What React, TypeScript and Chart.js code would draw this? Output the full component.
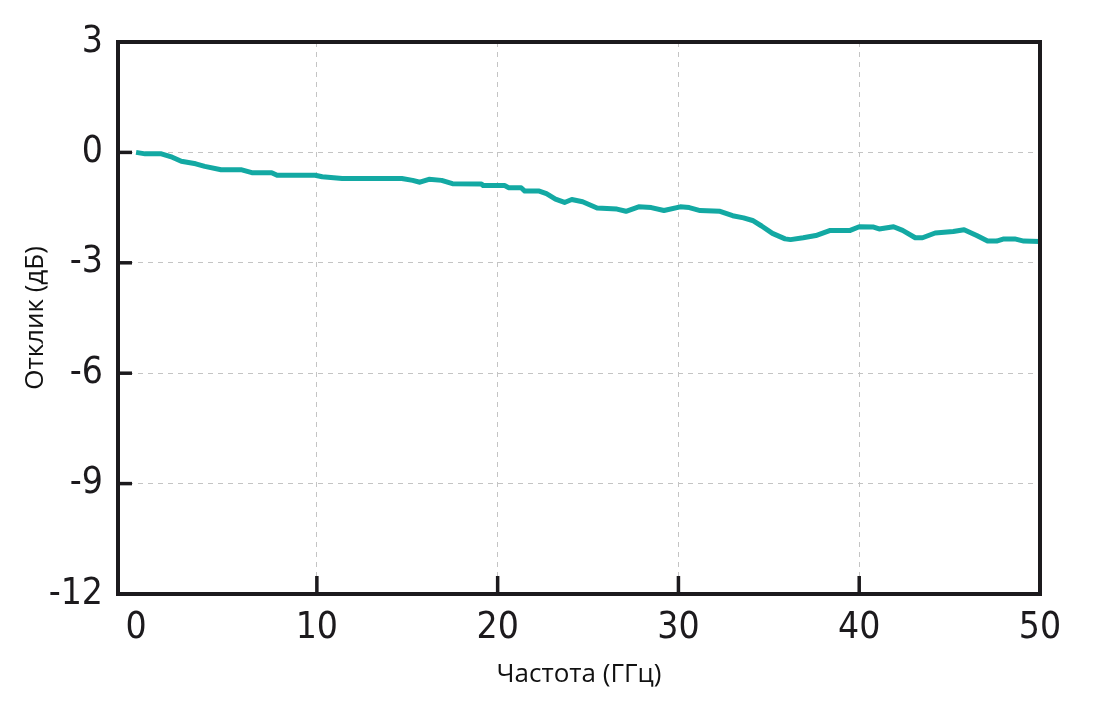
import { useEffect, useRef } from "react";
import { Chart, ChartConfiguration, registerables } from "chart.js";

Chart.register(...registerables);

// Frequency sample points (GHz) and measured response (dB)
const freqGHz = [
  0, 0.5, 1.4, 2.0, 2.5, 3.3, 3.8, 4.7, 5.8, 6.4, 7.5, 7.8, 9.9, 10.3, 11.4, 14.7, 15.3, 15.7, 16.2, 16.9,
  17.5, 19.1, 19.2, 20.4, 20.6, 21.3, 21.5, 22.3, 22.7, 23.2, 23.7, 24.1, 24.7, 25.5, 26.6, 27.1, 27.8, 28.5,
  29.2, 30.1, 30.6, 31.2, 32.3, 33.0, 33.6, 34.1, 34.6, 35.2, 35.9, 36.2, 36.9, 37.6, 38.4, 39.5, 40.0, 40.8,
  41.1, 41.9, 42.4, 43.1, 43.5, 44.2, 45.2, 45.8, 46.5, 47.1, 47.6, 48.0, 48.6, 49.1, 50,
];
const responseDb = [
  0, -0.04, -0.04, -0.13, -0.24, -0.31, -0.38, -0.47, -0.47, -0.55, -0.55, -0.62, -0.62, -0.66, -0.71, -0.71,
  -0.76, -0.81, -0.73, -0.76, -0.85, -0.86, -0.9, -0.9, -0.96, -0.96, -1.05, -1.05, -1.12, -1.27, -1.36, -1.28,
  -1.34, -1.51, -1.54, -1.6, -1.48, -1.5, -1.58, -1.48, -1.5, -1.58, -1.6, -1.72, -1.78, -1.85, -2.0, -2.2,
  -2.35, -2.37, -2.32, -2.26, -2.12, -2.12, -2.02, -2.03, -2.08, -2.02, -2.12, -2.32, -2.32, -2.19, -2.15,
  -2.1, -2.26, -2.41, -2.41, -2.35, -2.35, -2.41, -2.42,
];

const xTicks = [0, 10, 20, 30, 40, 50];
const yTicks = [3, 0, -3, -6, -9, -12];

const xTitle = "Частота (ГГц)";
const yTitle = "Отклик (дБ)";

const FRAME = "#1c1a1d";
const TICK_FONT = "'Liberation Sans Narrow', 'DejaVu Sans Condensed', 'Liberation Sans', sans-serif";
const TITLE_FONT = "'Open Sans', 'Noto Sans', sans-serif";

// frame around plot area plus short inward tick marks
const framePlugin = {
  id: "frame",
  afterDraw(chart: any) {
    const { ctx, chartArea } = chart;
    const { left, right, top, bottom } = chartArea;
    ctx.save();
    ctx.strokeStyle = FRAME;
    ctx.lineWidth = 4;
    ctx.strokeRect(left, top, right - left, bottom - top);
    const xs = chart.scales.x;
    const ys = chart.scales.y;
    ctx.lineWidth = 3.5;
    xTicks.forEach((v) => {
      if (v === 0 || v === 50) return;
      const px = xs.getPixelForValue(v);
      ctx.beginPath();
      ctx.moveTo(px, bottom);
      ctx.lineTo(px, bottom - 18);
      ctx.stroke();
    });
    yTicks.forEach((v) => {
      if (v === 3 || v === -12) return;
      const py = ys.getPixelForValue(v);
      ctx.beginPath();
      ctx.moveTo(left, py);
      ctx.lineTo(left + 14, py);
      ctx.stroke();
    });
    ctx.restore();
  },
};

function ResponseChart() {
  const canvasRef = useRef<HTMLCanvasElement>(null);
  const chartRef = useRef<Chart | null>(null);

  useEffect(() => {
    if (!canvasRef.current) return;
    const ctx = canvasRef.current.getContext("2d");
    if (!ctx) return;

    if (chartRef.current) chartRef.current.destroy();

    const config: ChartConfiguration = {
      type: "line",
      data: {
        datasets: [
          {
            data: freqGHz.map((f, i) => ({ x: f, y: responseDb[i] })),
            borderColor: "#13a9a3",
            borderWidth: 5,
            borderJoinStyle: "round",
            pointRadius: 0,
            tension: 0,
            fill: false,
          },
        ],
      },
      options: {
        animation: false,
        responsive: false,
        maintainAspectRatio: false,
        layout: { padding: { top: 42, right: 60, left: 0, bottom: 0 } },
        plugins: {
          legend: { display: false },
          tooltip: { enabled: false },
        },
        scales: {
          x: {
            type: "linear",
            min: -1,
            max: 50,
            afterBuildTicks: (scale: any) => {
              scale.ticks = xTicks.map((v) => ({ value: v }));
            },
            afterFit: (scale: any) => {
              scale.height = 110;
            },
            grid: {
              drawTicks: false,
              color: (c: any) => (c.tick && (c.tick.value === 0 || c.tick.value === 50) ? "rgba(0,0,0,0)" : "#c4c4c4"),
              lineWidth: 1,
            },
            border: { display: false, dash: [5, 5] },
            ticks: {
              padding: 12,
              color: FRAME,
              maxRotation: 0,
              font: { family: TICK_FONT, size: 37 },
              callback: (v: any) => String(v),
            },
            title: {
              display: true,
              text: xTitle,
              color: "#111",
              font: { family: TITLE_FONT, size: 26 },
              padding: { top: 0, bottom: 14 },
            },
          },
          y: {
            type: "linear",
            min: -12,
            max: 3,
            afterBuildTicks: (scale: any) => {
              scale.ticks = yTicks.map((v) => ({ value: v }));
            },
            afterFit: (scale: any) => {
              scale.width = 118;
            },
            grid: {
              drawTicks: false,
              color: (c: any) => (c.tick && (c.tick.value === 3 || c.tick.value === -12) ? "rgba(0,0,0,0)" : "#c4c4c4"),
              lineWidth: 1,
            },
            border: { display: false, dash: [5, 5] },
            ticks: {
              padding: 15,
              color: FRAME,
              font: { family: TICK_FONT, size: 37 },
              callback: (v: any) => String(v),
            },
            title: {
              display: true,
              text: yTitle,
              color: "#111",
              font: { family: TITLE_FONT, size: 26 },
              padding: { top: 20, bottom: 0 },
            },
          },
        },
      },
      plugins: [framePlugin],
    };

    chartRef.current = new Chart(ctx, config);

    return () => {
      if (chartRef.current) {
        chartRef.current.destroy();
        chartRef.current = null;
      }
    };
  }, []);

  return (
    <div style={{ position: "absolute", left: 0, top: 0, width: 1100, height: 704, background: "#fff" }}>
      <canvas ref={canvasRef} width={1100} height={704} style={{ width: 1100, height: 704 }} />
    </div>
  );
}

export default function App() {
  return <ResponseChart />;
}
